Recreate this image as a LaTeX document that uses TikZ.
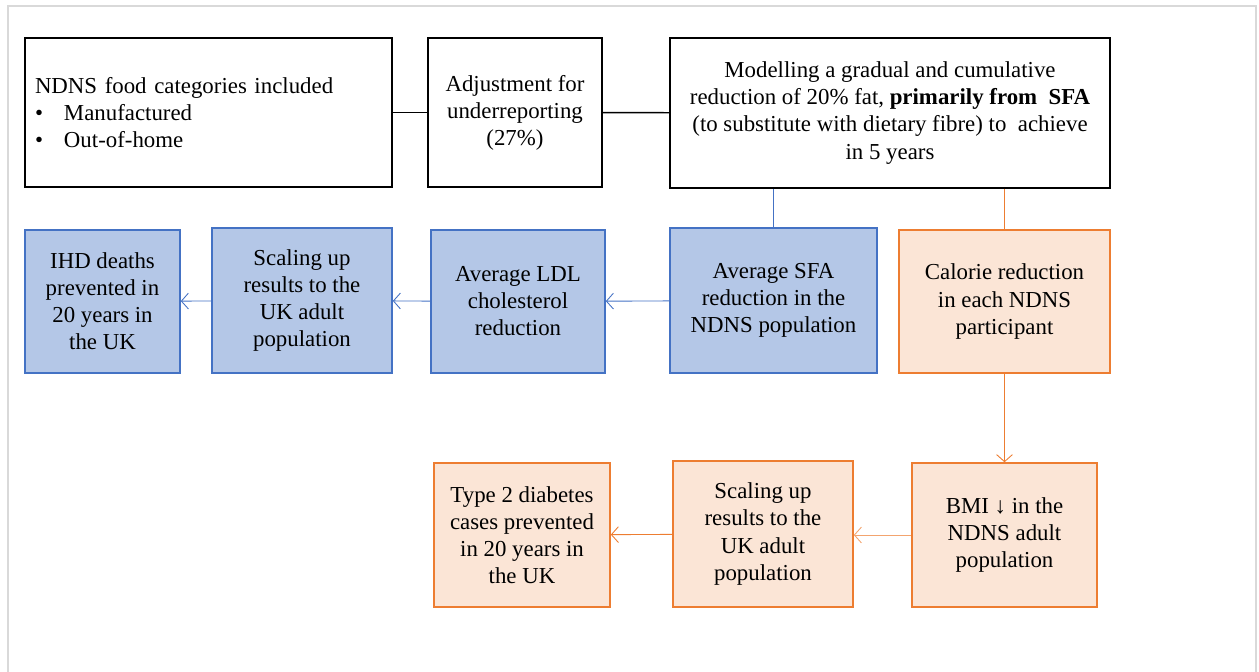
\documentclass[tikz,border=0pt]{standalone}
\usepackage{fontspec}
\setmainfont{Liberation Serif}
\usepackage{xcolor}
\usetikzlibrary{arrows.meta, positioning, calc}

\definecolor{bluefill}{HTML}{B4C7E7}
\definecolor{blueline}{HTML}{4472C4}
\definecolor{orangefill}{HTML}{FBE5D6}
\definecolor{orangeline}{HTML}{ED7D31}
\definecolor{framegray}{HTML}{D9D9D9}

\begin{document}
\begin{tikzpicture}[
  txt/.style={font=\fontsize{13}{15.4}\selectfont, align=center, inner sep=0pt},
  plain/.style={txt, rectangle, draw=black, line width=0.9pt, fill=white},
  bluebox/.style={txt, rectangle, draw=blueline, line width=0.9pt, fill=bluefill},
  orangebox/.style={txt, rectangle, draw=orangeline, line width=0.9pt, fill=orangefill},
  link/.style={line width=0.8pt},
  arrow/.style={-{Straight Barb[length=4pt, width=9pt]}, line width=0.5pt},
]
\useasboundingbox (0,0) rectangle (25.18,-13.42);
\draw[framegray, line width=1.2pt] (0.16,-13.6) -- (0.16,-0.12) -- (25.12,-0.12) -- (25.12,-13.6);

% top row
\node[plain, minimum width=7.34cm, minimum height=2.98cm, text width=6.94cm, align=left]
  (ndns) at (4.17,-2.25)
  {NDNS food categories included\\
   \makebox[0.58cm][l]{\textbullet}Manufactured\\
   \makebox[0.58cm][l]{\textbullet}Out-of-home};
\node[plain, minimum width=3.48cm, minimum height=2.98cm] (adjust) at (10.30,-2.25)
  {Adjustment for\\underreporting\\(27\%)};
\node[plain, minimum width=8.80cm, minimum height=3.0cm] (model) at (17.80,-2.26)
  {Modelling a gradual and cumulative\\
   reduction of 20\% fat, \textbf{primarily from\ \ SFA}\\
   (to substitute with dietary fibre) to\ \ achieve\\
   in 5 years};

% SFA pathway
\node[bluebox, minimum width=3.10cm, minimum height=2.86cm] (ihd) at (2.05,-6.03)
  {IHD deaths\\prevented in\\20 years in\\the UK};
\node[bluebox, minimum width=3.60cm, minimum height=2.90cm] (scaleihd) at (6.04,-6.01)
  {Scaling up\\results to the\\UK adult\\population};
\node[bluebox, minimum width=3.48cm, minimum height=2.86cm] (ldl) at (10.36,-6.03)
  {Average LDL\\cholesterol\\reduction};
\node[bluebox, minimum width=4.14cm, minimum height=2.90cm] (sfa) at (15.47,-6.01)
  {Average SFA\\reduction in the\\NDNS population};

% calorie pathway
\node[orangebox, minimum width=4.22cm, minimum height=2.86cm] (calorie) at (20.09,-6.03)
  {Calorie reduction\\in each NDNS\\participant};
\node[orangebox, minimum width=3.70cm, minimum height=2.88cm] (bmi) at (20.09,-10.70)
  {BMI ↓ in the\\NDNS adult\\population};
\node[orangebox, minimum width=3.60cm, minimum height=2.92cm] (scalet2d) at (15.26,-10.68)
  {Scaling up\\results to the\\UK adult\\population};
\node[orangebox, minimum width=3.52cm, minimum height=2.88cm] (diabetes) at (10.44,-10.70)
  {Type 2 diabetes\\cases prevented\\in 20 years in\\the UK};

\draw[link] (ndns) -- (adjust);
\draw[link] (adjust) -- (model);
\draw[link, blueline] (model.south -| sfa) -- (sfa);
\draw[link, orangeline] (model.south -| calorie) -- (calorie);

\draw[arrow, blueline] (sfa) -- (ldl);
\draw[arrow, blueline] (ldl) -- (scaleihd);
\draw[arrow, blueline] (scaleihd) -- (ihd);

\draw[arrow, orangeline] (calorie) -- (bmi);
\draw[arrow, orangeline!70] (bmi.west) -- (scalet2d.east |- bmi.west);
\draw[arrow, orangeline] (scalet2d) -- (diabetes);
\end{tikzpicture}
\end{document}
